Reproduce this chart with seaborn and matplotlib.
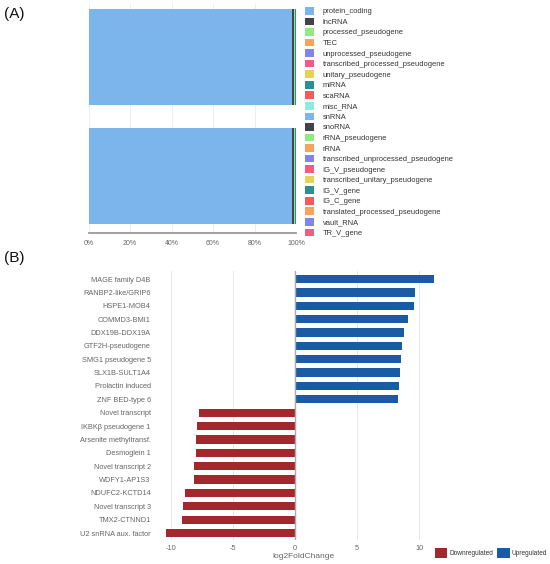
import matplotlib
matplotlib.use("Agg")
import matplotlib.pyplot as plt
from matplotlib.patches import Patch
import seaborn as sns
import numpy as np

# ---------------- Data ----------------
# Panel A: biotype composition (% of genes) for two samples
samples = ["Sample 1", "Sample 2"]
biotypes = ["protein_coding", "lncRNA", "processed_pseudogene", "TEC",
            "unprocessed_pseudogene", "transcribed_processed_pseudogene",
            "unitary_pseudogene", "miRNA", "scaRNA", "misc_RNA", "snRNA",
            "snoRNA", "rRNA_pseudogene", "rRNA",
            "transcribed_unprocessed_pseudogene", "IG_V_pseudogene",
            "transcribed_unitary_pseudogene", "IG_V_gene", "IG_C_gene",
            "translated_processed_pseudogene", "vault_RNA", "TR_V_gene"]
pct_sample1 = [98.30, 0.80, 0.25, 0.10, 0.10, 0.08, 0.05, 0.08, 0.02, 0.04, 0.04,
               0.03, 0.02, 0.01, 0.03, 0.01, 0.01, 0.01, 0.005, 0.005, 0.005, 0.005]
pct_sample2 = [97.90, 1.10, 0.30, 0.12, 0.10, 0.09, 0.05, 0.10, 0.02, 0.04, 0.04,
               0.03, 0.02, 0.01, 0.03, 0.01, 0.01, 0.01, 0.005, 0.005, 0.005, 0.005]
biotype_colors = ["#7cb5ec", "#434348", "#90ed7d", "#f7a35c", "#8085e9", "#f15c80",
                  "#e4d354", "#2b908f", "#f45b5b", "#91e8e1", "#7cb5ec", "#434348",
                  "#90ed7d", "#f7a35c", "#8085e9", "#f15c80", "#e4d354", "#2b908f",
                  "#f45b5b", "#f7a35c", "#8085e9", "#f15c80"]
pct_ticks = [0, 20, 40, 60, 80, 100]
pct_labels = ["0%", "20%", "40%", "60%", "80%", "100%"]

# Panel B: top differentially expressed genes
genes = ["MAGE family D4B", "RANBP2-like/GRIP6", "HSPE1-MOB4", "COMMD3-BMI1",
         "DDX19B-DDX19A", "GTF2H-pseudogene", "SMG1 pseudogene 5", "SLX1B-SULT1A4",
         "Prolactin induced", "ZNF BED-type 6", "Novel transcript",
         "IKBKβ pseudogene 1", "Arsenite methyltransf.", "Desmoglein 1",
         "Novel transcript 2", "WDFY1-AP1S3", "NDUFC2-KCTD14", "Novel transcript 3",
         "TMX2-CTNND1", "U2 snRNA aux. factor"]
log2fc = [11.2, 9.7, 9.55, 9.1, 8.8, 8.65, 8.5, 8.45, 8.35, 8.3,
          -7.7, -7.85, -7.95, -8.0, -8.1, -8.15, -8.85, -9.0, -9.1, -10.4]
direction = ["Upregulated" if v > 0 else "Downregulated" for v in log2fc]
dir_order = ["Downregulated", "Upregulated"]
dir_colors = ["#a3282d", "#1b5aa5"]
fc_ticks = [-10, -5, 0, 5, 10]

# ---------------- Style ----------------
sns.set_theme(style="white")
plt.rcParams["font.family"] = ["Liberation Sans", "DejaVu Sans"]

W, H = 550, 564
fig = plt.figure(figsize=(W / 100, H / 100), dpi=100)
fig.patch.set_facecolor("white")

def fx(px):
    return px / W

def fy(py):
    return 1 - py / H

# ---------------- Panel A ----------------
axA = fig.add_axes([fx(88.5), fy(233), fx(296) - fx(88.5), fy(3) - fy(233)])
left = np.zeros(len(samples))
for name, c, v1, v2 in zip(biotypes, biotype_colors, pct_sample1, pct_sample2):
    vals = np.array([v1, v2])
    axA.barh(samples, vals, left=left, color=c, height=0.8, linewidth=0, label=name)
    left = left + vals
axA.set_xlim(0, 100)
axA.set_ylim(1.476, -0.45)
axA.set_xticks(pct_ticks)
axA.set_xticklabels(pct_labels, fontsize=5, color="#666666")
axA.set_yticks([])
axA.grid(axis="x", color="#eeeeee", linewidth=0.7)
axA.set_axisbelow(True)
for s in ["top", "right", "left"]:
    axA.spines[s].set_visible(False)
axA.spines["bottom"].set_color("#999999")
axA.spines["bottom"].set_linewidth(1.3)
axA.tick_params(axis="x", length=3, width=0.8, color="#999999", pad=2)

handlesA = [Patch(facecolor=c, edgecolor="none") for c in biotype_colors]
fig.legend(handlesA, biotypes, loc="upper left",
           bbox_to_anchor=(fx(305), fy(7)), frameon=False, fontsize=5.4,
           handlelength=1.2, handleheight=1.2, handletextpad=1.15,
           labelspacing=0.29, borderpad=0, borderaxespad=0, labelcolor="#333333")

fig.text(fx(4), fy(14), "(A)", fontsize=11, ha="left", va="center", color="#111111")

# ---------------- Panel B ----------------
axB = fig.add_axes([fx(163.2), fy(540), fx(444) - fx(163.2), fy(271) - fy(540)])
sns.barplot(x=log2fc, y=genes, hue=direction, hue_order=dir_order,
            palette=dir_colors, dodge=False, orient="h", width=0.62,
            saturation=1, legend=False, linewidth=0, ax=axB)
axB.set_xlim(-10.6, 12)
axB.set_ylim(19.52, -0.6)
axB.set_xticks(fc_ticks)
axB.set_xticklabels([str(t) for t in fc_ticks], fontsize=5.3, color="#666666")
axB.tick_params(axis="y", labelsize=5.3, labelcolor="#666666", length=0, pad=9)
axB.tick_params(axis="x", length=0, pad=3.5)
axB.grid(axis="x", color="#e6e6e6", linewidth=0.7)
axB.set_axisbelow(True)
axB.axvline(0, color="#aaaaaa", linewidth=1.0, zorder=3)
for s in ["top", "right", "left", "bottom"]:
    axB.spines[s].set_visible(False)
axB.set_xlabel("log2FoldChange", fontsize=6, color="#666666", labelpad=1)
axB.set_ylabel("")

handlesB = [Patch(facecolor=c, edgecolor="none") for c in dir_colors]
fig.legend(handlesB, dir_order, loc="center left", ncol=2,
           bbox_to_anchor=(fx(435), fy(553)), frameon=False, fontsize=4.7,
           handlelength=1.9, handleheight=1.9, handletextpad=0.3,
           columnspacing=0.6, borderpad=0, borderaxespad=0, labelcolor="#333333")

fig.text(fx(4), fy(258), "(B)", fontsize=11, ha="left", va="center", color="#111111")

fig.savefig("out.png", dpi=100, facecolor="white")
